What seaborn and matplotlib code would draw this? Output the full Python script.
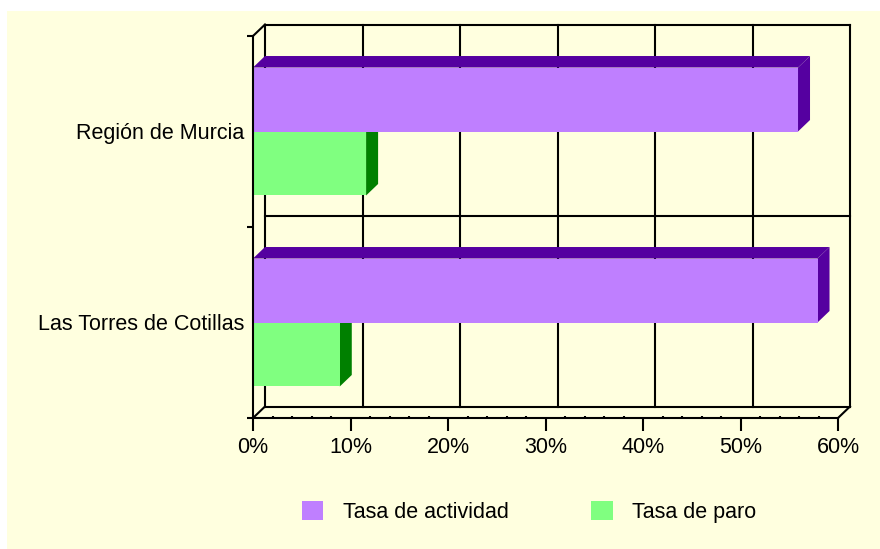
import matplotlib
matplotlib.use("Agg")
import matplotlib.pyplot as plt
from matplotlib.patches import Polygon, Rectangle, Patch
from matplotlib.lines import Line2D
from matplotlib.ticker import MultipleLocator
import seaborn as sns
import pandas as pd

# ---------------- data ----------------
categories = ["Región de Murcia", "Las Torres de Cotillas"]
series = ["Tasa de actividad", "Tasa de paro"]
tasa_actividad = [55.9, 57.9]
tasa_paro = [11.6, 8.9]
x_ticks = [0, 10, 20, 30, 40, 50, 60]
x_tick_labels = ["0%", "10%", "20%", "30%", "40%", "50%", "60%"]

df = pd.DataFrame({
    "zona": categories * 2,
    "serie": [series[0]] * len(categories) + [series[1]] * len(categories),
    "valor": tasa_actividad + tasa_paro,
})

plt.rcParams["font.family"] = ["Liberation Sans", "DejaVu Sans"]

W, H = 880, 549
fig = plt.figure(figsize=(W / 100, H / 100), dpi=100)
fig.patch.set_facecolor("white")
fig.patches.append(Rectangle((7 / W, 0), 1 - 7 / W, 1 - 11 / H,
                             transform=fig.transFigure, facecolor="#FFFFDF",
                             edgecolor="none", zorder=-10))

L, R, T, B = 253, 838, 36, 418
ax = fig.add_axes([L / W, 1 - B / H, (R - L) / W, (B - T) / H])
ax.patch.set_alpha(0)

front = ["#BF7FFF", "#80FF80"]
dark = ["#5500A0", "#008000"]

sns.barplot(data=df, y="zona", x="valor", hue="serie", order=categories,
            hue_order=series, palette=front, width=0.67, orient="h",
            errorbar=None, saturation=1, linewidth=0, legend=False, ax=ax)

xmax = x_ticks[-1]
ax.set_xlim(0, xmax)
ax.set_ylim(len(categories) - 0.5, -0.5)

DX = xmax * 12 / (R - L)
DY = len(categories) * 11.5 / (B - T)

# 3D faces of the bars
front_z = [5, 3]
face_z = [4, 2]
for i, cont in enumerate(ax.containers):
    for bar in cont:
        bar.set_zorder(front_z[i])
        x0, w = bar.get_x(), bar.get_width()
        yt, yb = bar.get_y(), bar.get_y() + bar.get_height()
        top = [(x0, yt), (x0 + w, yt), (x0 + w + DX, yt - DY), (x0 + DX, yt - DY)]
        side = [(x0 + w, yt), (x0 + w, yb), (x0 + w + DX, yb - DY), (x0 + w + DX, yt - DY)]
        for poly in (top, side):
            ax.add_patch(Polygon(poly, closed=True, facecolor=dark[i],
                                 edgecolor="none", zorder=face_z[i], clip_on=False))

# back wall and floor lines
lw = 1.5
y_top, y_bot = -0.5, len(categories) - 0.5
for xv in x_ticks:
    ax.add_line(Line2D([xv + DX, xv + DX], [y_top - DY, y_bot - DY], color="black",
                       lw=lw, zorder=1, clip_on=False))
for yv in [-0.5 + k for k in range(len(categories) + 1)]:
    ax.add_line(Line2D([DX, xmax + DX], [yv - DY, yv - DY], color="black",
                       lw=lw, zorder=1, clip_on=False))
for (xa, ya) in [(0, y_bot), (xmax, y_bot), (0, y_top)]:
    ax.add_line(Line2D([xa, xa + DX], [ya, ya - DY], color="black",
                       lw=lw, zorder=1, clip_on=False))

# spines
for s in ["top", "right"]:
    ax.spines[s].set_visible(False)
for s in ["left", "bottom"]:
    ax.spines[s].set_linewidth(lw)
    ax.spines[s].set_color("black")
    ax.spines[s].set_zorder(10)

fs = 15.5
ax.set_xticks(x_ticks, x_tick_labels)
ax.xaxis.set_minor_locator(MultipleLocator(2))
ax.tick_params(axis="x", which="major", direction="out", length=9.4, width=lw,
               pad=4, labelsize=fs, colors="black")
ax.tick_params(axis="x", which="minor", direction="in", length=1.8, width=lw)
ax.set_yticks(range(len(categories)), categories)
ax.set_yticks([-0.5 + k for k in range(len(categories) + 1)], minor=True)
ax.tick_params(axis="y", which="major", length=0, pad=6.5, labelsize=fs, colors="black")
ax.tick_params(axis="y", which="minor", direction="out", length=4.3, width=lw)
ax.set_xlabel("")
ax.set_ylabel("")

handles = [Patch(facecolor=c, edgecolor="none") for c in front]
fig.legend(handles=handles, labels=series, loc="center",
           bbox_to_anchor=(529 / W, 1 - 512 / H), ncol=2, frameon=False,
           fontsize=fs, handlelength=1.0, handleheight=1.0, handletextpad=0.9,
           columnspacing=3.85)

fig.savefig("out.png", dpi=100)
